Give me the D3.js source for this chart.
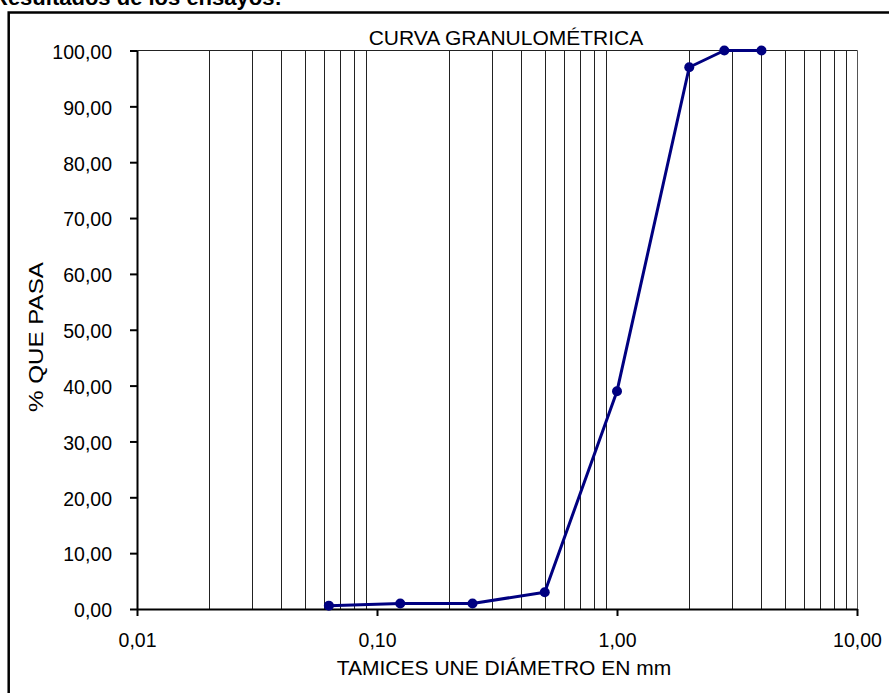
<!DOCTYPE html>
<html>
<head>
<meta charset="utf-8">
<script src="https://cdn.jsdelivr.net/npm/d3@7"></script>
<style>
  html, body { margin: 0; padding: 0; background: #fff; }
  svg { display: block; font-family: Arial, "Liberation Sans", sans-serif; }
</style>
</head>
<body>
<svg id="chart" width="889" height="693"></svg>
<script>
// ---- data ----
const sieveSizes = [0.063, 0.125, 0.25, 0.5, 1.0, 2.0, 2.8, 4.0];
const percentPassing = [0.6, 1.0, 1.0, 3.0, 39.0, 97.0, 100.0, 100.0];
const yTicks = [0, 10, 20, 30, 40, 50, 60, 70, 80, 90, 100];
const xTicks = [0.01, 0.1, 1, 10];
const gridValues = [0.02, 0.03, 0.04, 0.05, 0.06, 0.07, 0.08, 0.09,
                    0.2, 0.3, 0.4, 0.5, 0.6, 0.7, 0.8, 0.9,
                    2, 3, 4, 5, 6, 7, 8, 9];
const chartTitle = "CURVA GRANULOMÉTRICA";
const xTitle = "TAMICES UNE DIÁMETRO EN mm";
const yTitle = "% QUE PASA";
const headerText = "Resultados de los ensayos:";

(function () {
// ---- layout ----
const svg = d3.select("#chart");
const pLeft = 137, pRight = 857, pTop = 50.5, pBottom = 609;

const x = d3.scaleLog().domain([0.01, 10]).range([pLeft, pRight]);
const y = d3.scaleLinear().domain([0, 100]).range([pBottom, pTop]);
const fmt = d3.format(".2f");
const comma = v => fmt(v).replace(".", ",");

// header text (clipped at top)
svg.append("text")
  .attr("x", -8).attr("y", 5)
  .attr("font-size", 22).attr("font-weight", "bold")
  .attr("fill", "#000")
  .text(headerText);

// outer border
svg.append("rect")
  .attr("x", 8.7).attr("y", 12.5)
  .attr("width", 900).attr("height", 700)
  .attr("fill", "none").attr("stroke", "#000").attr("stroke-width", 2.5);

// vertical grid lines
svg.append("g").selectAll("line")
  .data(gridValues).join("line")
  .attr("x1", d => Math.round(x(d)) + 0.5).attr("x2", d => Math.round(x(d)) + 0.5)
  .attr("y1", pTop).attr("y2", pBottom)
  .attr("stroke", "#222").attr("stroke-width", 1);

// frame top & right
svg.append("line")
  .attr("x1", pLeft).attr("x2", pRight + 0.5).attr("y1", pTop).attr("y2", pTop)
  .attr("stroke", "#222").attr("stroke-width", 1);
svg.append("line")
  .attr("x1", pRight + 0.5).attr("x2", pRight + 0.5).attr("y1", pTop).attr("y2", pBottom)
  .attr("stroke", "#555").attr("stroke-width", 1);

// y axis
const yAxis = svg.append("g")
  .attr("transform", `translate(${pLeft},0)`)
  .call(d3.axisLeft(y).tickValues(yTicks).tickFormat(comma)
    .tickSize(7).tickSizeOuter(0).tickPadding(18));
yAxis.select(".domain").attr("stroke", "#000").attr("stroke-width", 2);
yAxis.selectAll(".tick line").attr("stroke", "#000").attr("stroke-width", 2);
yAxis.selectAll(".tick text")
  .attr("font-size", 19.5).attr("font-family", "Arial, 'Liberation Sans', sans-serif")
  .attr("fill", "#000").attr("dy", "0.4em");

// x axis
const xAxis = svg.append("g")
  .attr("transform", `translate(0,${pBottom})`)
  .call(d3.axisBottom(x).tickValues(xTicks).tickFormat(comma)
    .tickSize(7).tickSizeOuter(0).tickPadding(17));
xAxis.select(".domain").attr("stroke", "#000").attr("stroke-width", 2);
xAxis.selectAll(".tick line").attr("stroke", "#000").attr("stroke-width", 2);
xAxis.selectAll(".tick text")
  .attr("font-size", 19.5).attr("font-family", "Arial, 'Liberation Sans', sans-serif")
  .attr("fill", "#000");

// data line
const pts = sieveSizes.map((s, i) => [s, percentPassing[i]]);
svg.append("path")
  .datum(pts)
  .attr("fill", "none")
  .attr("stroke", "#000080")
  .attr("stroke-width", 3)
  .attr("stroke-linejoin", "round")
  .attr("d", d3.line().x(d => x(d[0])).y(d => y(d[1])));

svg.append("g").selectAll("circle")
  .data(pts).join("circle")
  .attr("cx", d => x(d[0])).attr("cy", d => y(d[1]))
  .attr("r", 5).attr("fill", "#000080");

// titles
svg.append("text")
  .attr("x", 506).attr("y", 45)
  .attr("text-anchor", "middle").attr("font-size", 21).attr("fill", "#000")
  .text(chartTitle);

svg.append("text")
  .attr("x", 504).attr("y", 675)
  .attr("text-anchor", "middle").attr("font-size", 21).attr("fill", "#000")
  .text(xTitle);

svg.append("text")
  .attr("transform", "translate(43,337) rotate(-90)")
  .attr("text-anchor", "middle").attr("font-size", 21).attr("fill", "#000")
  .attr("textLength", 150).attr("lengthAdjust", "spacingAndGlyphs")
  .text(yTitle);
})();
</script>
</body>
</html>
